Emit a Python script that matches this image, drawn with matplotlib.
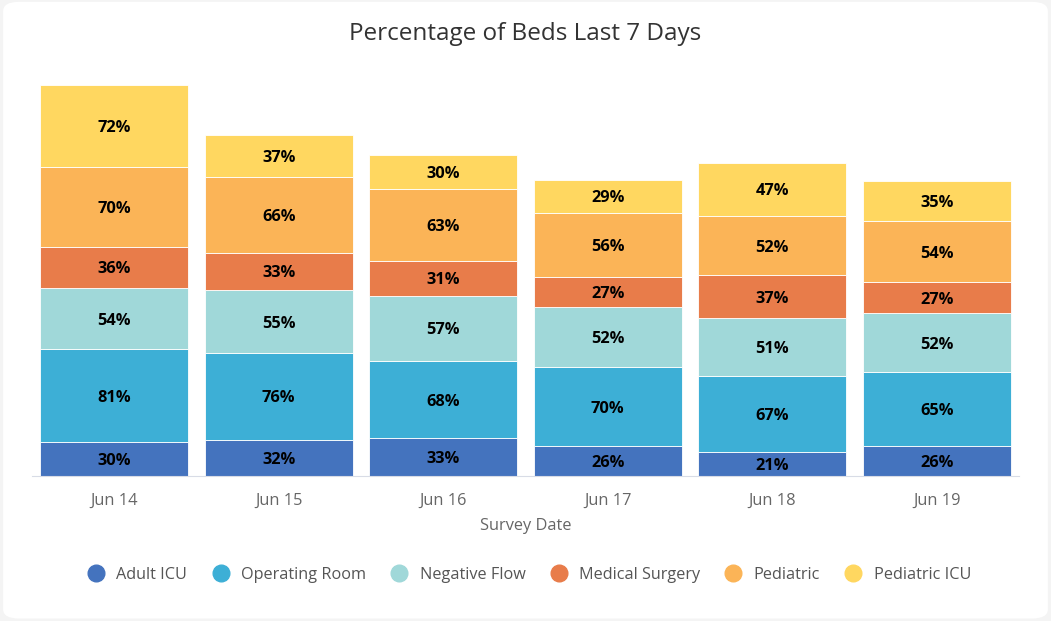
import matplotlib.pyplot as plt
from matplotlib.patches import FancyBboxPatch
from matplotlib.lines import Line2D
import numpy as np

dates = ["Jun 14", "Jun 15", "Jun 16", "Jun 17", "Jun 18", "Jun 19"]
series = ["Adult ICU", "Operating Room", "Negative Flow", "Medical Surgery", "Pediatric", "Pediatric ICU"]
adult_icu = [30, 32, 33, 26, 21, 26]
operating_room = [81, 76, 68, 70, 67, 65]
negative_flow = [54, 55, 57, 52, 51, 52]
medical_surgery = [36, 33, 31, 27, 37, 27]
pediatric = [70, 66, 63, 56, 52, 54]
pediatric_icu = [72, 37, 30, 29, 47, 35]

colors = ['#4473BE', '#3DAFD6', '#A0D8D9', '#E87C4A', '#FBB457', '#FFD760']

plt.rcParams['font.family'] = ['Open Sans', 'DejaVu Sans']

fig = plt.figure(figsize=(10.51, 6.21), dpi=100)
fig.patch.set_facecolor('#f4f4f4')
box = FancyBboxPatch((0.003, 0.004), 0.994, 0.993, boxstyle="round,pad=0,rounding_size=0.015",
                     transform=fig.transFigure, facecolor='white', edgecolor='none', zorder=-10)
fig.patches.append(box)

ax = fig.add_axes([32 / 1051, 1 - 476 / 621, 987 / 1051, 399 / 621])
ax.set_facecolor('none')
ax.set_zorder(1)

x = np.arange(len(dates))
bottom = np.zeros(len(dates))
all_vals = [adult_icu, operating_room, negative_flow, medical_surgery, pediatric, pediatric_icu]
for vals, name, c in zip(all_vals, series, colors):
    vals = np.array(vals)
    ax.bar(x, vals, 0.9, bottom=bottom, color=c, edgecolor='white', linewidth=0.6, label=name)
    for xi, b, v in zip(x, bottom, vals):
        ax.annotate(str(v) + "%", (xi, b + v / 2), xytext=(0, -1.5), textcoords='offset points',
                    ha='center', va='center', fontsize=11.8, fontweight='bold', color='black')
    bottom = bottom + vals

ax.set_xlim(-0.5, 5.5)
ax.set_ylim(0, 350)
ax.set_yticks([])
for s in ['left', 'right', 'top']:
    ax.spines[s].set_visible(False)
ax.spines['bottom'].set_color('#d8dce6')
ax.set_xticks(x)
ax.set_xticklabels(dates, fontsize=11.8, color='#666666')
ax.tick_params(axis='x', length=0, pad=12)
ax.set_xlabel("Survey Date", fontsize=11.8, color='#666666', labelpad=7)

fig.text(0.5, 1 - 34 / 621, "Percentage of Beds Last 7 Days", ha='center', va='center',
         fontsize=17.5, color='#333333')

handles = [Line2D([], [], marker='o', linestyle='none', markersize=12, color=c) for c in colors]
fig.legend(handles, series, loc='center', bbox_to_anchor=(0.5, 1 - 575 / 621), ncol=6,
           frameon=False, fontsize=11.7, labelcolor='#555555', handletextpad=0.25, columnspacing=1.05)

plt.savefig("out.png", dpi=100, facecolor=fig.get_facecolor())
